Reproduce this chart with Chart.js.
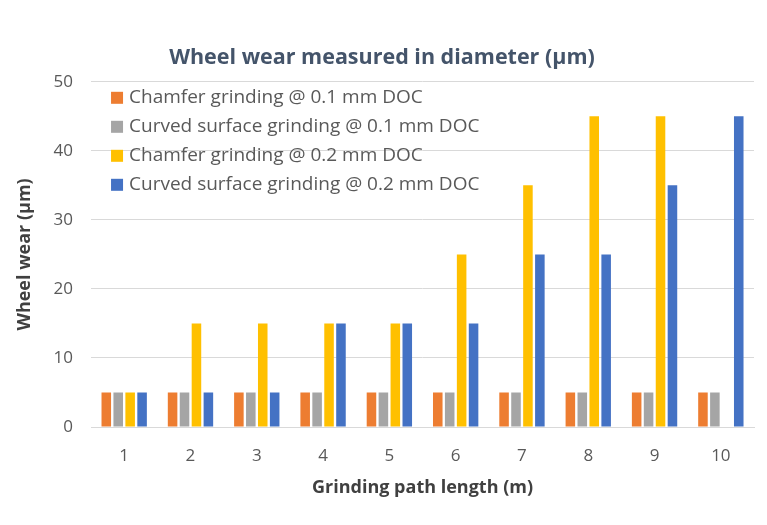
<!DOCTYPE html>
<html>
<head>
<meta charset="utf-8">
<script src="https://cdn.jsdelivr.net/npm/chart.js@4/dist/chart.umd.min.js"></script>
<style>
  html, body { margin: 0; padding: 0; background: #fff; }
  #wrap { width: 767px; height: 525px; position: relative; }
</style>
</head>
<body>
<div id="wrap"><canvas id="myChart" width="767" height="525"></canvas></div>
<script>
var labels = ['1', '2', '3', '4', '5', '6', '7', '8', '9', '10'];
var chamfer01 = [5, 5, 5, 5, 5, 5, 5, 5, 5, 5];
var curved01 = [5, 5, 5, 5, 5, 5, 5, 5, 5, 5];
var chamfer02 = [5, 15, 15, 15, 15, 25, 35, 45, 45, null];
var curved02 = [5, 5, 5, 15, 15, 15, 25, 25, 35, 45];

var font = '"Open Sans", "Noto Sans", sans-serif';

// legend drawn inside the plot, top left, like the Excel original
var innerLegend = {
	id: 'innerLegend',
	afterDatasetsDraw: function(chart) {
		var c = chart.ctx;
		var area = chart.chartArea;
		c.save();
		c.font = '19px ' + font;
		c.textBaseline = 'middle';
		chart.data.datasets.forEach(function(ds, i) {
			var y = area.top + 16 + i * 29;
			c.fillStyle = ds.backgroundColor;
			c.fillRect(area.left + 20, y - 6, 12, 12);
			c.fillStyle = '#595959';
			c.fillText(ds.label, area.left + 38, y);
		});
		c.restore();
	}
};

var ctx = document.getElementById('myChart');
var myChart = new Chart(ctx, {
	type: 'bar',
	data: {
		labels: labels,
		datasets: [{
			label: 'Chamfer grinding @ 0.1 mm DOC',
			data: chamfer01,
			backgroundColor: '#ED7D31'
		},
		{
			label: 'Curved surface grinding @ 0.1 mm DOC',
			data: curved01,
			backgroundColor: '#A5A5A5'
		},
		{
			label: 'Chamfer grinding @ 0.2 mm DOC',
			data: chamfer02,
			backgroundColor: '#FFC000'
		},
		{
			label: 'Curved surface grinding @ 0.2 mm DOC',
			data: curved02,
			backgroundColor: '#4472C4'
		}]
	},
	plugins: [innerLegend],
	options: {
		responsive: false,
		animation: false,
		categoryPercentage: 0.72,
		barPercentage: 0.8,
		layout: { padding: { top: 45, right: 13, left: 10, bottom: 22 } },
		plugins: {
			title: {
				display: true,
				text: 'Wheel wear measured in diameter (µm)',
				color: '#44546A',
				font: { family: font, size: 21.5, weight: 'bold' },
				padding: { top: 0, bottom: 11 }
			},
			legend: { display: false },
			tooltip: { enabled: false }
		},
		scales: {
			x: {
				grid: { display: false },
				border: { color: '#D9D9D9' },
				ticks: { color: '#595959', font: { family: font, size: 17 }, padding: 11 },
				title: {
					display: true,
					text: 'Grinding path length (m)',
					color: '#404040',
					font: { family: font, size: 18, weight: 'bold' },
					padding: { top: 0 }
				}
			},
			y: {
				min: 0,
				max: 50,
				ticks: { stepSize: 10, color: '#595959', font: { family: font, size: 17 }, padding: 18 },
				grid: { color: '#D9D9D9', drawTicks: false },
				border: { display: false },
				title: {
					display: true,
					text: 'Wheel wear (µm)',
					color: '#404040',
					font: { family: font, size: 18, weight: 'bold' },
					padding: { bottom: 0 }
				}
			}
		}
	}
});
</script>
</body>
</html>
